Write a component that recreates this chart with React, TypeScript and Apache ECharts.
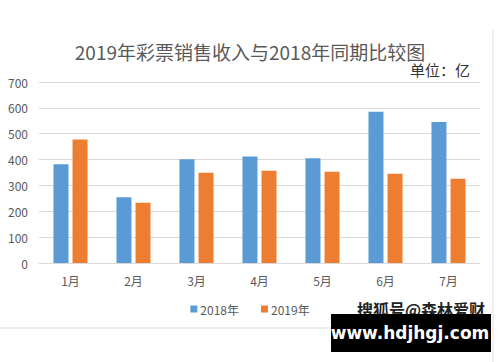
import React, { useEffect, useRef } from "react";
import * as echarts from "echarts";

const months = ["1月", "2月", "3月", "4月", "5月", "6月", "7月"];
const sales2018 = [382, 254, 401, 412, 405, 585, 545];
const sales2019 = [478, 233, 349, 357, 353, 345, 326];
const yTicks = { min: 0, max: 700, interval: 100 };

const FONT = "'Noto Sans CJK SC', 'Noto Sans', sans-serif";

export default function App() {
  const ref = useRef<HTMLDivElement>(null);
  useEffect(() => {
    if (!ref.current) return;
    const chart = echarts.init(ref.current, null, { renderer: "svg" });
    chart.setOption({
      animation: false,
      backgroundColor: "#ffffff",
      title: {
        text: "2019年彩票销售收入与2018年同期比较图",
        left: "center",
        top: 37,
        textStyle: { fontFamily: FONT, fontSize: 19, fontWeight: "normal", color: "#595959" },
      },
      legend: {
        data: ["2018年", "2019年"],
        left: "center",
        top: 298,
        icon: "rect",
        itemWidth: 7,
        itemHeight: 7,
        itemGap: 22,
        textStyle: { fontFamily: FONT, fontSize: 12, color: "#595959", padding: [0, 0, 0, -2] },
      },
      grid: { left: 39, right: 20, top: 82, bottom: 99, containLabel: false },
      xAxis: {
        type: "category",
        data: months,
        axisLine: { show: true, lineStyle: { color: "#d9d9d9" } },
        axisTick: { show: false },
        axisLabel: { fontFamily: FONT, fontSize: 12, color: "#595959", margin: 11 },
      },
      yAxis: {
        type: "value",
        min: yTicks.min,
        max: yTicks.max,
        interval: yTicks.interval,
        axisLine: { show: false },
        axisTick: { show: false },
        axisLabel: { fontFamily: FONT, fontSize: 12, color: "#595959", margin: 11 },
        splitLine: { lineStyle: { color: "#d9d9d9" } },
      },
      series: [
        {
          name: "2018年",
          type: "bar",
          data: sales2018,
          barWidth: 15,
          barGap: "27%",
          itemStyle: { color: "#5B9BD5" },
        },
        {
          name: "2019年",
          type: "bar",
          data: sales2019,
          barWidth: 15,
          itemStyle: { color: "#ED7D31" },
        },
      ],
      graphic: [
        {
          type: "text",
          right: 30,
          top: 62,
          style: { text: "单位：亿", fontFamily: FONT, fontSize: 15, fill: "#333333" },
        },
        {
          type: "line",
          shape: { x1: 0, y1: 328, x2: 331, y2: 328 },
          style: { stroke: "#d9d9d9", lineWidth: 1 },
        },
        {
          type: "line",
          shape: { x1: 493, y1: 30, x2: 493, y2: 362 },
          style: { stroke: "#e0e0e0", lineWidth: 1 },
        },
        {
          type: "text",
          x: 357,
          y: 301,
          style: { text: "搜狐号@森林爱财", fontFamily: FONT, fontSize: 16, fontWeight: "bold", fill: "#222222" },
        },
        {
          type: "rect",
          shape: { x: 331, y: 314, width: 160, height: 38 },
          style: { fill: "#000000" },
        },
        {
          type: "text",
          x: 410,
          y: 333,
          style: {
            text: "www.hdjhgj.com",
            fontFamily: "'DejaVu Sans', sans-serif",
            fontSize: 17,
            fontWeight: "bold",
            fill: "#ffffff",
            align: "center",
            verticalAlign: "middle",
          },
        },
      ],
    });
    return () => chart.dispose();
  }, []);
  return (
    <div
      ref={ref}
      style={{ position: "fixed", left: 0, top: 0, width: 500, height: 362 }}
    />
  );
}
